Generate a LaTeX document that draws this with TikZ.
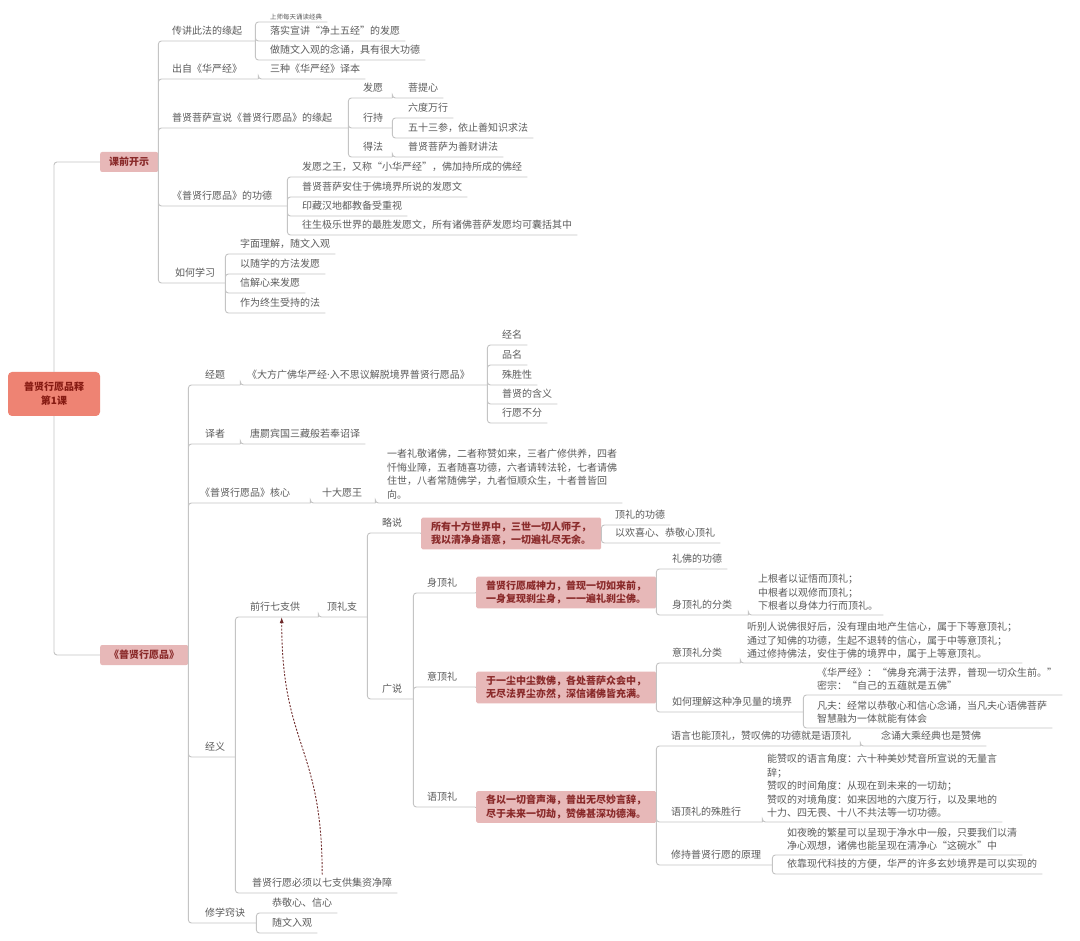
\documentclass[tikz,border=0pt]{standalone}
\usepackage{fontspec}
\setmainfont{Noto Sans CJK SC}
\newfontfamily\latinfont{Noto Sans}
\usetikzlibrary{positioning,arrows.meta}
\definecolor{linegray}{HTML}{C4C4C4}
\definecolor{txtgray}{HTML}{5C5C5C}
\definecolor{rootfill}{HTML}{EE8373}
\definecolor{rootred}{HTML}{861A12}
\definecolor{boxpink}{HTML}{E7B8B8}
\definecolor{boxred}{HTML}{8A2A2A}
\definecolor{dashred}{HTML}{6E2A2A}

\begin{document}
\begin{tikzpicture}[x=1pt,y=-1pt,
    every node/.style={font=\fontsize{10}{13.5}\selectfont, text=txtgray},
    topic/.style={anchor=south west, inner xsep=5pt, inner ysep=4pt, text height=8pt, text depth=2pt},
    wide/.style={text width=#1, align=left},
    para/.style={anchor=south west, inner xsep=5pt, inner ysep=4pt, align=left},
    tiny/.style={anchor=south west, inner xsep=5pt, inner ysep=2pt, font=\fontsize{6.5}{7}\selectfont},
    verse/.style={anchor=west, fill=boxpink, text=boxred, font=\bfseries\fontsize{10}{13.5}\selectfont, align=left, inner xsep=10pt, inner ysep=4pt, rounded corners=1.5pt},
    mainbox/.style={anchor=west, fill=boxpink, text=boxred, font=\bfseries\fontsize{10}{12}\selectfont, inner xsep=9pt, minimum height=20pt, rounded corners=2pt},
    link/.style={draw=linegray, line width=0.9pt, rounded corners=3pt}]
    \fill[white] (0,0) rectangle (1080,941);
    \useasboundingbox (0,0) rectangle (1080,941);

    \node[fill=rootfill, text=rootred, font=\bfseries\fontsize{10}{14}\selectfont, align=center, minimum width=92pt, minimum height=44pt, rounded corners=4pt] (root) at (54,394) {普贤行愿品释\\第1课};
    \node[mainbox] (kqks) at (100,162) {课前开示};
    \node[mainbox] (pxhyp) at (100,655) {《普贤行愿品》};

    \node[topic, wide=78pt] (yuanqi) at (167,41) {传讲此法的缘起};
    \node[tiny] (shangshi) at (265,22) {上师每天诵读经典};
    \node[topic] (luoshi) at (265,41) {落实宣讲“净土五经”的发愿};
    \node[topic] (suiwen) at (265,60) {做随文入观的念诵，具有很大功德};
    \node[topic, wide=81pt] (chuzi) at (167,79) {出自《华严经》};
    \node[topic] (sanzhong) at (265,79) {三种《华严经》译本};
    \node[topic, wide=171pt] (xuanshuo) at (167,128) {普贤菩萨宣说《普贤行愿品》的缘起};
    \node[topic, wide=24pt] (fayuan) at (358,98) {发愿};
    \node[topic] (puti) at (403,98) {菩提心};
    \node[topic, wide=24pt] (xingchi) at (358,128) {行持};
    \node[topic] (liudu) at (403,118) {六度万行};
    \node[topic] (wushisan) at (403,138) {五十三参，依止善知识求法};
    \node[topic, wide=24pt] (defa) at (358,157) {得法};
    \node[topic] (jiangfa) at (403,157) {普贤菩萨为善财讲法};
    \node[topic, wide=110pt] (gongde) at (167,206) {《普贤行愿品》的功德};
    \node[topic] (wang) at (297,177) {发愿之王，又称“小华严经”，佛加持所成的佛经};
    \node[topic] (anzhu) at (297,197) {普贤菩萨安住于佛境界所说的发愿文};
    \node[topic] (yinzang) at (297,216) {印藏汉地都教备受重视};
    \node[topic] (wangsheng) at (297,235) {往生极乐世界的最胜发愿文，所有诸佛菩萨发愿均可囊括其中};
    \node[topic, wide=45pt] (ruhe) at (170,283) {如何学习};
    \node[topic] (zimian) at (235,254) {字面理解，随文入观};
    \node[topic] (suixue) at (235,274) {以随学的方法发愿};
    \node[topic] (xinjie) at (235,293) {信解心来发愿};
    \node[topic] (zhongsheng) at (235,313) {作为终生受持的法};

    \node[topic, wide=30pt] (jingti) at (200,385) {经题};
    \node[topic, wide=235pt] (title) at (242,385) {《大方广佛华严经{\latinfont ·}入不思议解脱境界普贤行愿品》};
    \node[topic] (jingm) at (497,345) {经名};
    \node[topic] (pinm) at (497,365) {品名};
    \node[topic] (shushengxing) at (497,385) {殊胜性};
    \node[topic] (hanyi) at (497,404) {普贤的含义};
    \node[topic] (bufen) at (497,423) {行愿不分};
    \node[topic, wide=30pt] (yizhe) at (200,444) {译者};
    \node[topic] (tang) at (245,444) {唐罽宾国三藏般若奉诏译};
    \node[topic, wide=105pt] (hexin) at (195,503) {《普贤行愿品》核心};
    \node[topic, wide=48pt] (shida) at (317,503) {十大愿王};
    \node[para] (yiwang) at (382,503) {一者礼敬诸佛，二者称赞如来，三者广修供养，四者\\忏悔业障，五者随喜功德，六者请转法轮，七者请佛\\住世，八者常随佛学，九者恒顺众生，十者普皆回\\向。};

    \node[topic, wide=25pt] (jingyi) at (200,757) {经义};
    \node[topic, wide=63pt] (qianxing) at (245,617) {前行七支供};
    \node[topic, wide=35pt] (dingli) at (322,617) {顶礼支};
    \node[topic, wide=33pt] (lueshuo) at (377,533) {略说};
    \node[verse] (v1) at (421,533.5) {所有十方世界中，三世一切人师子，\\我以清净身语意，一切遍礼尽无余。};
    \node[topic] (gd1) at (610,525) {顶礼的功德};
    \node[topic] (hx1) at (610,543) {以欢喜心、恭敬心顶礼};
    \node[topic, wide=26pt] (guangshuo) at (377,699) {广说};
    \node[topic, wide=43pt] (shen) at (422,593) {身顶礼};
    \node[verse] (v2) at (476,592.5) {普贤行愿威神力，普现一切如来前，\\一身复现刹尘身，一一遍礼刹尘佛。};
    \node[topic] (lifo) at (667,569) {礼佛的功德};
    \node[topic, wide=71pt] (shenfl) at (667,615) {身顶礼的分类};
    \node[para] (gen) at (753,615) {上根者以证悟而顶礼；\\中根者以观修而顶礼；\\下根者以身体力行而顶礼。};
    \node[topic, wide=43pt] (yi) at (422,687) {意顶礼};
    \node[verse] (v3) at (476,687.5) {于一尘中尘数佛，各处菩萨众会中，\\无尽法界尘亦然，深信诸佛皆充满。};
    \node[topic, wide=63pt] (yifl) at (667,663) {意顶礼分类};
    \node[para] (ting) at (742,663) {听别人说佛很好后，没有理由地产生信心，属于下等意顶礼；\\通过了知佛的功德，生起不退转的信心，属于中等意顶礼；\\通过修持佛法，安住于佛的境界中，属于上等意顶礼。};
    \node[topic, wide=126pt] (lijie) at (667,712) {如何理解这种净见量的境界};
    \node[para] (huayan) at (812,695) {《华严经》：“佛身充满于法界，普现一切众生前。”\\密宗：“自己的五蕴就是五佛”};
    \node[para] (fanfu) at (812,728) {凡夫：经常以恭敬心和信心念诵，当凡夫心语佛菩萨\\智慧融为一体就能有体会};
    \node[topic, wide=43pt] (yu) at (422,807) {语顶礼};
    \node[verse] (v4) at (476,807) {各以一切音声海，普出无尽妙言辞，\\尽于未来一切劫，赞佛甚深功德海。};
    \node[topic, wide=184pt] (yuyan) at (666,746) {语言也能顶礼，赞叹佛的功德就是语顶礼};
    \node[topic] (niansong) at (876,746) {念诵大乘经典也是赞佛};
    \node[topic, wide=86pt] (shusheng) at (666,822) {语顶礼的殊胜行};
    \node[para] (zantan) at (762,822) {能赞叹的语言角度：六十种美妙梵音所宣说的无量言\\辞；\\赞叹的时间角度：从现在到未来的一切劫；\\赞叹的对境角度：如来因地的六度万行，以及果地的\\十力、四无畏、十八不共法等一切功德。};
    \node[topic, wide=96pt] (yuanli) at (666,865) {修持普贤行愿的原理};
    \node[para] (yewan) at (782,855) {如夜晚的繁星可以呈现于净水中一般，只要我们以清\\净心观想，诸佛也能呈现在清净心“这碗水”中};
    \node[topic] (kaoji) at (782,874) {依靠现代科技的方便，华严的许多玄妙境界是可以实现的};
    \node[topic] (bixu) at (247,893) {普贤行愿必须以七支供集资净障};
    \node[topic, wide=46pt] (xiuxue) at (200,923) {修学窍诀};
    \node[topic] (gongjing) at (267,913) {恭敬心、信心};
    \node[topic] (suiwenru) at (267,933) {随文入观};

    \draw[link] (root.north) |- (kqks.west);
    \draw[link] (root.south) |- (pxhyp.west);
    \draw[link] (kqks.east) |- (yuanqi.south east) (kqks.east) |- (chuzi.south east) (kqks.east) |- (xuanshuo.south east) (kqks.east) |- (gongde.south east) (kqks.east) |- (ruhe.south east);
    \draw[link] (yuanqi.south east) |- (shangshi.south east) (yuanqi.south east) |- (luoshi.south east) (yuanqi.south east) |- (suiwen.south east);
    \draw[link] (chuzi.south east) |- (sanzhong.south east);
    \draw[link] (xuanshuo.south east) |- (fayuan.south east) (xuanshuo.south east) |- (xingchi.south east) (xuanshuo.south east) |- (defa.south east);
    \draw[link] (fayuan.south east) |- (puti.south east);
    \draw[link] (xingchi.south east) |- (liudu.south east) (xingchi.south east) |- (wushisan.south east);
    \draw[link] (defa.south east) |- (jiangfa.south east);
    \draw[link] (gongde.south east) |- (wang.south east) (gongde.south east) |- (anzhu.south east) (gongde.south east) |- (yinzang.south east) (gongde.south east) |- (wangsheng.south east);
    \draw[link] (ruhe.south east) |- (zimian.south east) (ruhe.south east) |- (suixue.south east) (ruhe.south east) |- (xinjie.south east) (ruhe.south east) |- (zhongsheng.south east);

    \draw[link] (pxhyp.east) |- (jingti.south east) (pxhyp.east) |- (yizhe.south east) (pxhyp.east) |- (hexin.south east) (pxhyp.east) |- (jingyi.south east) (pxhyp.east) |- (xiuxue.south east);
    \draw[link] (jingti.south east) |- (title.south east);
    \draw[link] (title.south east) |- (jingm.south east) (title.south east) |- (pinm.south east) (title.south east) |- (shushengxing.south east) (title.south east) |- (hanyi.south east) (title.south east) |- (bufen.south east);
    \draw[link] (yizhe.south east) |- (tang.south east);
    \draw[link] (hexin.south east) |- (shida.south east);
    \draw[link] (shida.south east) |- (yiwang.south east);
    \draw[link] (jingyi.south east) |- (qianxing.south east) (jingyi.south east) |- (bixu.south east);
    \draw[link] (qianxing.south east) |- (dingli.south east);
    \draw[link] (dingli.south east) |- (lueshuo.south east) (dingli.south east) |- (guangshuo.south east);
    \draw[link] (lueshuo.south east) -- (v1.west);
    \draw[link] (v1.east) |- (gd1.south east) (v1.east) |- (hx1.south east);
    \draw[link] (guangshuo.south east) |- (shen.south east) (guangshuo.south east) |- (yi.south east) (guangshuo.south east) |- (yu.south east);
    \draw[link] (shen.south east) -- (v2.west);
    \draw[link] (v2.east) |- (lifo.south east) (v2.east) |- (shenfl.south east);
    \draw[link] (shenfl.south east) |- (gen.south east);
    \draw[link] (yi.south east) -- (v3.west);
    \draw[link] (v3.east) |- (yifl.south east) (v3.east) |- (lijie.south east);
    \draw[link] (yifl.south east) |- (ting.south east);
    \draw[link] (lijie.south east) |- (huayan.south east) (lijie.south east) |- (fanfu.south east);
    \draw[link] (yu.south east) -- (v4.west);
    \draw[link] (v4.east) |- (yuyan.south east) (v4.east) |- (shusheng.south east) (v4.east) |- (yuanli.south east);
    \draw[link] (yuyan.south east) |- (niansong.south east);
    \draw[link] (shusheng.south east) |- (zantan.south east);
    \draw[link] (yuanli.south east) |- (yewan.south east) (yuanli.south east) |- (kaoji.south east);
    \draw[link] (xiuxue.south east) |- (gongjing.south east) (xiuxue.south east) |- (suiwenru.south east);

    \draw[dashred, line width=0.9pt, dash pattern=on 2pt off 1.5pt, -{Latex[length=6pt,width=4pt]}] (bixu.north) .. controls +(0,-130) and +(0,130) .. (qianxing.south);
\end{tikzpicture}
\end{document}
